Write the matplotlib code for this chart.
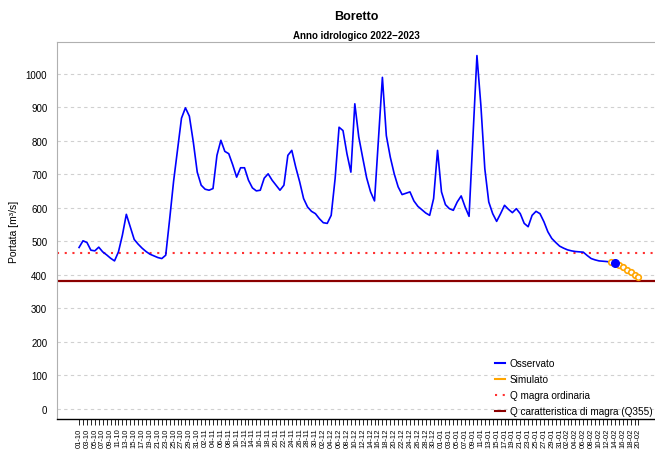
import matplotlib
matplotlib.use("Agg")
import matplotlib.pyplot as plt
import numpy as np
import pandas as pd
from matplotlib.lines import Line2D

plt.rcParams['font.family'] = ['Liberation Sans', 'DejaVu Sans']

start_date = "2022-10-01"
n_days = 143

observed = [482, 502, 497, 474, 472, 483, 469, 460, 450, 442,
            469, 519, 581, 544, 506, 492, 480, 470, 462, 457,
            452, 449, 459, 567, 680, 775, 868, 899, 874, 797,
            707, 668, 656, 653, 658, 757, 802, 769, 762, 729,
            692, 720, 720, 683, 660, 651, 653, 689, 702, 683,
            668, 653, 668, 757, 772, 722, 678, 628, 603, 590,
            583, 568, 556, 554, 578, 688, 841, 831, 762, 707,
            911, 812, 750, 690, 648, 621, 805, 990, 816, 752,
            702, 663, 640, 644, 648, 621, 605, 595, 585, 578,
            628, 772, 648, 610, 598, 593, 618, 636, 603, 575,
            816, 1055, 906, 717, 618, 583, 560, 583, 608, 596,
            586, 598, 583, 554, 544, 578, 590, 583, 559, 529,
            509, 497, 486, 480, 475, 472, 470, 469, 468, 458,
            449, 445, 442, 441, 440, 438, 437]
sim_start = 135
simulated = [439, 437, 431, 424, 416, 409, 401, 394]

q_magra_ordinaria = 466
q355 = 381

yticks = list(range(0, 1001, 100))

dates = pd.date_range(start_date, periods=n_days, freq="D")
date_labels = [d.strftime("%d-%m") for d in dates]

W, H = 655, 456
fig = plt.figure(figsize=(W / 100, H / 100), dpi=100)
ax = fig.add_axes([57 / W, 1 - 420 / H, 1 - 57 / W, (420 - 43) / H])

x_all = np.arange(n_days)
x_obs = x_all[:len(observed)]
x_sim = x_all[sim_start:sim_start + len(simulated)]

for v in yticks:
    ax.axhline(v, color="#d0d0d0", lw=0.8, ls=(0, (3, 3)), zorder=0)

ax.axhline(q355, color="#8b0000", lw=1.6, zorder=2)
ax.axhline(q_magra_ordinaria, color="#ff3030", lw=1.5, ls=(0, (1, 2.7)), zorder=2)

ax.plot(x_obs, observed, color="#0000ff", lw=1.2, zorder=3)
ax.plot(x_sim, simulated, color="#ffa500", lw=1.0, marker="o", ms=4.0,
        mfc="white", mec="#ffa500", mew=1.2, zorder=4)
ax.plot([x_obs[-1]], [observed[-1]], "o", color="#0000ff", ms=5.5, zorder=5)

handles = [Line2D([], [], color="#0000ff", lw=1.5),
           Line2D([], [], color="#ffa500", lw=1.5),
           Line2D([], [], color="#ff3030", lw=1.5, ls=(0, (1, 2.7))),
           Line2D([], [], color="#8b0000", lw=1.5)]
labels = ["Osservato", "Simulato", "Q magra ordinaria", "Q caratteristica di magra (Q355)"]
fig.legend(handles, labels, loc="upper left", bbox_to_anchor=(490 / W, 1 - 354 / H),
           frameon=False, fontsize=7.2, handlelength=1.0, handletextpad=0.5,
           borderpad=0, labelspacing=0.6)

ax.set_xlim(-5.6, 146.2)
ax.set_ylim(-30, 1095.5)
ax.set_yticks(yticks)
ax.set_yticklabels([str(v) for v in yticks], fontsize=7)
ax.tick_params(axis="y", length=0, pad=7)

ax.set_xticks(x_all)
ax.set_xticklabels([lab if i % 2 == 0 else "" for i, lab in enumerate(date_labels)],
                   rotation=90, fontsize=5.5)
ax.tick_params(axis="x", length=4, width=0.6, pad=2)

for s in ["left", "top"]:
    ax.spines[s].set_color("#b0b0b0")
    ax.spines[s].set_linewidth(0.8)
ax.spines["right"].set_visible(False)
ax.spines["bottom"].set_color("black")
ax.spines["bottom"].set_linewidth(1.0)

ax.set_ylabel("Portata [m\u00b3/s]", fontsize=7.5, labelpad=5)

fig.text(356 / W, 1 - 17 / H, "Boretto", ha="center", va="center",
         fontsize=9, fontweight="bold")
fig.text(356 / W, 1 - 36 / H, "Anno idrologico 2022\u22122023", ha="center", va="center",
         fontsize=7, fontweight="bold")

fig.savefig("out.png", dpi=100)
